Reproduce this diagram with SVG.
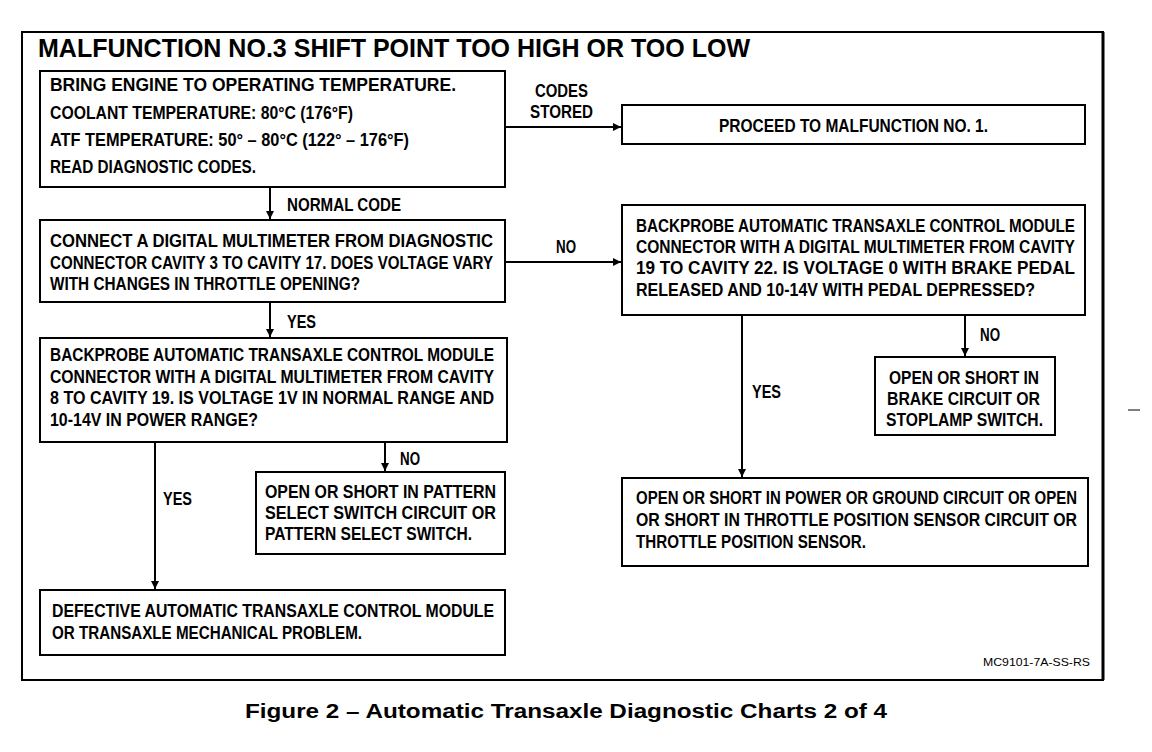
<svg xmlns="http://www.w3.org/2000/svg" width="1152" height="752" viewBox="0 0 1152 752">
<style>
.bx{fill:#fff;stroke:#000;stroke-width:2}
.t{font-family:"Liberation Sans Narrow","Liberation Sans",Arial,sans-serif;font-weight:bold;font-size:17.5px;fill:#000}
.ln{stroke:#000;stroke-width:2;fill:none}
.ttl{font-family:"Liberation Sans",Arial,sans-serif;font-weight:bold;font-size:25px;fill:#000}
.cap{font-family:"Liberation Sans",Arial,sans-serif;font-weight:bold;font-size:20px;fill:#000}
.code{font-family:"Liberation Sans",Arial,sans-serif;font-size:11px;fill:#000}
</style>
<defs>
<marker id="ah" viewBox="0 0 10 10" refX="10" refY="5" markerWidth="4" markerHeight="4" orient="auto" markerUnits="strokeWidth">
<path d="M0,0 L10,5 L0,10 z" fill="#000"/>
</marker>
</defs>
<rect width="1152" height="752" fill="#fff"/>
<g id="frame">
<rect x="22" y="32" width="1081" height="648" fill="none" stroke="#000" stroke-width="2"/>
<line x1="1103" y1="32" x2="1103" y2="680" stroke="#000" stroke-width="3"/>
<text class="ttl" x="38" y="57" textLength="712" lengthAdjust="spacingAndGlyphs">MALFUNCTION NO.3 SHIFT POINT TOO HIGH OR TOO LOW</text>
<line x1="1128" y1="410" x2="1140" y2="410" stroke="#000" stroke-width="1"/>
</g>
<g id="connectors">
<line class="ln" x1="505" y1="72" x2="505" y2="186"/>
<line class="ln" x1="505" y1="127" x2="621" y2="127" marker-end="url(#ah)"/>
<line class="ln" x1="505" y1="262" x2="621" y2="262" marker-end="url(#ah)"/>
<line class="ln" x1="270" y1="187" x2="270" y2="219" marker-end="url(#ah)"/>
<line class="ln" x1="270" y1="302" x2="270" y2="337" marker-end="url(#ah)"/>
<line class="ln" x1="155" y1="442" x2="155" y2="589" marker-end="url(#ah)"/>
<line class="ln" x1="385" y1="442" x2="385" y2="471" marker-end="url(#ah)"/>
<line class="ln" x1="742" y1="315" x2="742" y2="477" marker-end="url(#ah)"/>
<line class="ln" x1="965" y1="315" x2="965" y2="356" marker-end="url(#ah)"/>
<text class="t" x="535" y="97" textLength="53" lengthAdjust="spacingAndGlyphs">CODES</text>
<text class="t" x="530" y="118" textLength="63" lengthAdjust="spacingAndGlyphs">STORED</text>
<text class="t" x="287" y="211" textLength="114" lengthAdjust="spacingAndGlyphs">NORMAL CODE</text>
<text class="t" x="556" y="253" textLength="20" lengthAdjust="spacingAndGlyphs">NO</text>
<text class="t" x="287" y="328" textLength="29" lengthAdjust="spacingAndGlyphs">YES</text>
<text class="t" x="163" y="505" textLength="29" lengthAdjust="spacingAndGlyphs">YES</text>
<text class="t" x="400" y="465" textLength="20" lengthAdjust="spacingAndGlyphs">NO</text>
<text class="t" x="752" y="398" textLength="29" lengthAdjust="spacingAndGlyphs">YES</text>
<text class="t" x="980" y="341" textLength="20" lengthAdjust="spacingAndGlyphs">NO</text>
</g>
<g id="n_start">
<rect class="bx" x="40" y="71" width="465" height="116"/>
<text class="t" x="50" y="91" textLength="406" lengthAdjust="spacingAndGlyphs">BRING ENGINE TO OPERATING TEMPERATURE.</text>
<text class="t" x="50" y="119" textLength="303" lengthAdjust="spacingAndGlyphs">COOLANT TEMPERATURE: 80°C (176°F)</text>
<text class="t" x="50" y="146" textLength="359" lengthAdjust="spacingAndGlyphs">ATF TEMPERATURE: 50° – 80°C (122° – 176°F)</text>
<text class="t" x="50" y="173" textLength="206" lengthAdjust="spacingAndGlyphs">READ DIAGNOSTIC CODES.</text>
</g>
<g id="n_proceed">
<rect class="bx" x="622" y="105" width="463" height="39"/>
<text class="t" x="719" y="132" textLength="269" lengthAdjust="spacingAndGlyphs">PROCEED TO MALFUNCTION NO. 1.</text>
</g>
<g id="n_connect">
<rect class="bx" x="40" y="220" width="465" height="82"/>
<text class="t" x="50" y="247" textLength="443" lengthAdjust="spacingAndGlyphs">CONNECT A DIGITAL MULTIMETER FROM DIAGNOSTIC</text>
<text class="t" x="50" y="269" textLength="443" lengthAdjust="spacingAndGlyphs">CONNECTOR CAVITY 3 TO CAVITY 17. DOES VOLTAGE VARY</text>
<text class="t" x="50" y="290" textLength="310" lengthAdjust="spacingAndGlyphs">WITH CHANGES IN THROTTLE OPENING?</text>
</g>
<g id="n_backprobe1">
<rect class="bx" x="40" y="338" width="467" height="104"/>
<text class="t" x="50" y="361" textLength="444" lengthAdjust="spacingAndGlyphs">BACKPROBE AUTOMATIC TRANSAXLE CONTROL MODULE</text>
<text class="t" x="50" y="383" textLength="444" lengthAdjust="spacingAndGlyphs">CONNECTOR WITH A DIGITAL MULTIMETER FROM CAVITY</text>
<text class="t" x="50" y="404" textLength="444" lengthAdjust="spacingAndGlyphs">8 TO CAVITY 19. IS VOLTAGE 1V IN NORMAL RANGE AND</text>
<text class="t" x="50" y="426" textLength="208" lengthAdjust="spacingAndGlyphs">10-14V IN POWER RANGE?</text>
</g>
<g id="n_pattern">
<rect class="bx" x="256" y="472" width="249" height="82"/>
<text class="t" x="265" y="498" textLength="231" lengthAdjust="spacingAndGlyphs">OPEN OR SHORT IN PATTERN</text>
<text class="t" x="265" y="519" textLength="231" lengthAdjust="spacingAndGlyphs">SELECT SWITCH CIRCUIT OR</text>
<text class="t" x="265" y="540" textLength="207" lengthAdjust="spacingAndGlyphs">PATTERN SELECT SWITCH.</text>
</g>
<g id="n_defective">
<rect class="bx" x="40" y="590" width="465" height="65"/>
<text class="t" x="52" y="617" textLength="442" lengthAdjust="spacingAndGlyphs">DEFECTIVE AUTOMATIC TRANSAXLE CONTROL MODULE</text>
<text class="t" x="52" y="639" textLength="310" lengthAdjust="spacingAndGlyphs">OR TRANSAXLE MECHANICAL PROBLEM.</text>
</g>
<g id="n_backprobe2">
<rect class="bx" x="622" y="205" width="463" height="110"/>
<text class="t" x="636" y="232" textLength="439" lengthAdjust="spacingAndGlyphs">BACKPROBE AUTOMATIC TRANSAXLE CONTROL MODULE</text>
<text class="t" x="636" y="253" textLength="439" lengthAdjust="spacingAndGlyphs">CONNECTOR WITH A DIGITAL MULTIMETER FROM CAVITY</text>
<text class="t" x="636" y="274" textLength="439" lengthAdjust="spacingAndGlyphs">19 TO CAVITY 22. IS VOLTAGE 0 WITH BRAKE PEDAL</text>
<text class="t" x="636" y="296" textLength="399" lengthAdjust="spacingAndGlyphs">RELEASED AND 10-14V WITH PEDAL DEPRESSED?</text>
</g>
<g id="n_brake">
<rect class="bx" x="875" y="357" width="180" height="78"/>
<text class="t" x="889" y="384" textLength="150" lengthAdjust="spacingAndGlyphs">OPEN OR SHORT IN</text>
<text class="t" x="887" y="405" textLength="153" lengthAdjust="spacingAndGlyphs">BRAKE CIRCUIT OR</text>
<text class="t" x="886" y="426" textLength="157" lengthAdjust="spacingAndGlyphs">STOPLAMP SWITCH.</text>
</g>
<g id="n_power">
<rect class="bx" x="622" y="478" width="466" height="88"/>
<text class="t" x="636" y="504" textLength="441" lengthAdjust="spacingAndGlyphs">OPEN OR SHORT IN POWER OR GROUND CIRCUIT OR OPEN</text>
<text class="t" x="636" y="526" textLength="441" lengthAdjust="spacingAndGlyphs">OR SHORT IN THROTTLE POSITION SENSOR CIRCUIT OR</text>
<text class="t" x="636" y="548" textLength="230" lengthAdjust="spacingAndGlyphs">THROTTLE POSITION SENSOR.</text>
</g>
<g id="footer">
<text class="code" x="983" y="666" textLength="107" lengthAdjust="spacingAndGlyphs">MC9101-7A-SS-RS</text>
<text class="cap" x="245" y="718" textLength="642" lengthAdjust="spacingAndGlyphs">Figure 2 – Automatic Transaxle Diagnostic Charts 2 of 4</text>
</g>
</svg>
